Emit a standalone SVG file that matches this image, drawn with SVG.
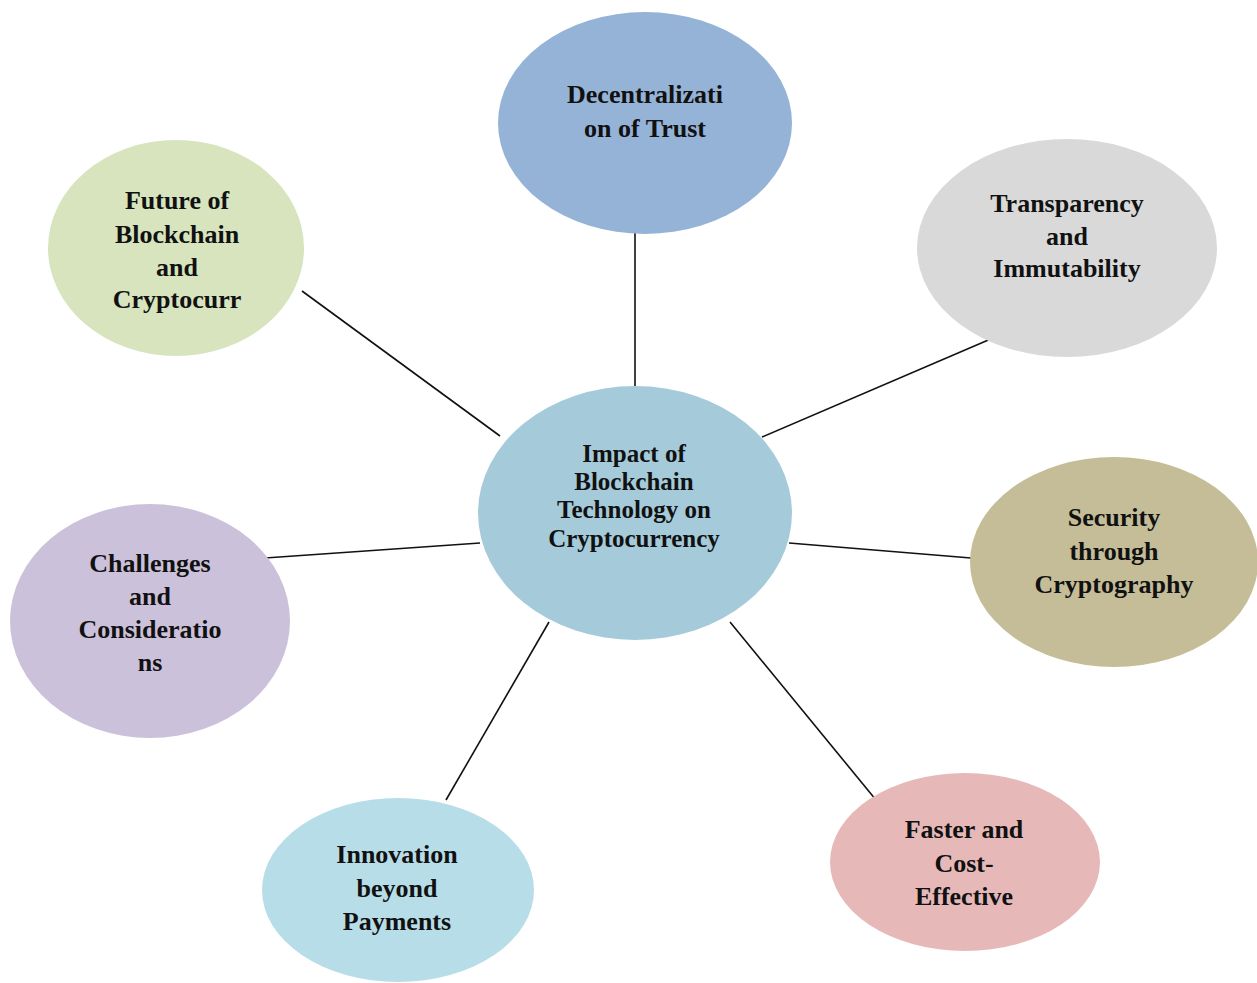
<svg xmlns="http://www.w3.org/2000/svg" width="1257" height="983" viewBox="0 0 1257 983">
<style>
.t{font-family:"Liberation Serif","Times New Roman",serif;font-weight:bold;font-size:26px;fill:#111;text-anchor:middle}
.c{font-size:25px}
.e{stroke:none}
.ln{stroke:#111;stroke-width:1.6;fill:none}
</style>
<rect width="1257" height="983" fill="#fff"/>
<g id="connectors">
<line class="ln" x1="635" y1="233" x2="635" y2="387"/>
<line class="ln" x1="302" y1="291" x2="500" y2="436"/>
<line class="ln" x1="993" y1="338" x2="762" y2="437"/>
<line class="ln" x1="971" y1="558" x2="789" y2="543"/>
<line class="ln" x1="265" y1="558" x2="480" y2="543"/>
<line class="ln" x1="446" y1="800" x2="549" y2="622"/>
<line class="ln" x1="876" y1="800" x2="730" y2="622"/>
</g>
<g id="decentralization">
<ellipse class="e" cx="645" cy="123" rx="147" ry="111" fill="#95b3d7"/>
<text class="t" x="645" y="103">Decentralizati</text>
<text class="t" x="645" y="137">on of Trust</text>
</g>
<g id="future">
<ellipse class="e" cx="176" cy="248" rx="128" ry="108" fill="#d7e4bd"/>
<text class="t" x="177" y="209">Future of</text>
<text class="t" x="177" y="243">Blockchain</text>
<text class="t" x="177" y="276">and</text>
<text class="t" x="177" y="308">Cryptocurr</text>
</g>
<g id="transparency">
<ellipse class="e" cx="1067" cy="248" rx="150" ry="109" fill="#d9d9d9"/>
<text class="t" x="1067" y="212">Transparency</text>
<text class="t" x="1067" y="245">and</text>
<text class="t" x="1067" y="277">Immutability</text>
</g>
<g id="center">
<ellipse class="e" cx="635" cy="513" rx="157" ry="127" fill="#a5cbdb"/>
<text class="t c" x="634" y="462">Impact of</text>
<text class="t c" x="634" y="490">Blockchain</text>
<text class="t c" x="634" y="518">Technology on</text>
<text class="t c" x="634" y="547">Cryptocurrency</text>
</g>
<g id="security">
<ellipse class="e" cx="1114" cy="562" rx="144" ry="105" fill="#c4bd97"/>
<text class="t" x="1114" y="526">Security</text>
<text class="t" x="1114" y="560">through</text>
<text class="t" x="1114" y="593">Cryptography</text>
</g>
<g id="challenges">
<ellipse class="e" cx="150" cy="621" rx="140" ry="117" fill="#ccc1da"/>
<text class="t" x="150" y="572">Challenges</text>
<text class="t" x="150" y="605">and</text>
<text class="t" x="150" y="638">Consideratio</text>
<text class="t" x="150" y="671">ns</text>
</g>
<g id="innovation">
<ellipse class="e" cx="398" cy="890" rx="136" ry="92" fill="#b7dde8"/>
<text class="t" x="397" y="863">Innovation</text>
<text class="t" x="397" y="897">beyond</text>
<text class="t" x="397" y="930">Payments</text>
</g>
<g id="faster">
<ellipse class="e" cx="965" cy="862" rx="135" ry="89" fill="#e6b9b8"/>
<text class="t" x="964" y="838">Faster and</text>
<text class="t" x="964" y="872">Cost-</text>
<text class="t" x="964" y="905">Effective</text>
</g>
</svg>
